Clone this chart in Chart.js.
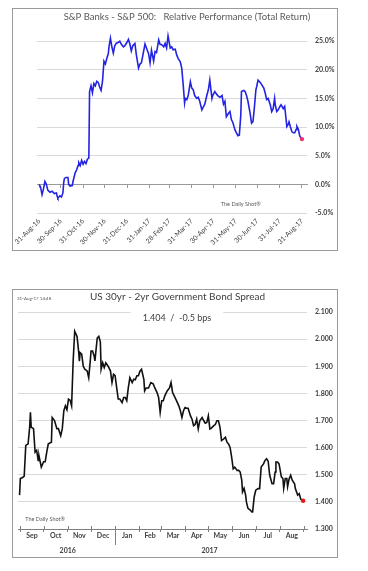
<!DOCTYPE html>
<html><head><meta charset="utf-8">
<script src="https://cdn.jsdelivr.net/npm/chart.js@4"></script>
<style>
html,body{margin:0;padding:0;background:#fff;}
body{width:368px;height:571px;position:relative;overflow:hidden;}
.box{position:absolute;border:1px solid #9a9a9a;box-sizing:border-box;background:#fff}
#b1{left:12px;top:8px;width:326px;height:243px}
#b2{left:12px;top:289px;width:326px;height:269px}
.box canvas{position:absolute;left:0;top:0}
</style></head><body>
<div class="box" id="b1"><canvas id="c1" width="324" height="241"></canvas></div>
<div class="box" id="b2"><canvas id="c2" width="324" height="267"></canvas></div>
<script>
// ---------- Chart 1 data: S&P Banks - S&P 500 relative performance (%), x = days since 31-Aug-16
const relTitle = 'S&P Banks - S&P 500:   Relative Performance (Total Return)';
const relDays = [0,2,4,6,8,10,12,15,18,21,24,25,26,29,31,33,34,35,37,40,41,43,46,47,50,52,54,55,57,59,61,63,65,67,69,70,72,74,76,78,80,82,84,86,88,90,92,94,96,97,99,101,103,105,107,110,112,114,117,119,122,124,126,128,130,133,135,138,140,142,144,147,149,152,154,156,159,161,163,166,168,170,173,175,177,179,182,184,186,189,191,193,196,198,200,202,203,205,207,210,212,214,216,219,221,223,226,228,230,233,235,237,240,241,244,246,248,251,254,256,258,260,263,265,267,269,272,274,276,278,280,281,284,286,288,290,293,295,297,299,301,302,304,307,309,312,314,316,318,321,323,325,327,328,330,332,334,336,339,341,342,344,346,347,349,351,353,355,357,358,360,362,365];
const relPerf = [0,-0.5,-1.8,-0.8,0.5,0,-1.0,-1.4,-1.2,-1.6,-1.5,-2.1,-2.4,-2.0,-2.2,-1.5,0.2,1.0,1.2,1.2,0.0,-0.3,-0.2,0.5,2.0,2.5,3.3,3.8,3.3,4.2,3.5,4.0,3.6,4.4,4.6,16.2,17.2,16.0,17.6,17.2,18.0,17.8,17.0,16.4,18.0,21.5,21.0,22.0,22.8,24.0,25.5,24.0,22.9,24.2,24.6,24.8,25.0,24.5,24.0,24.2,24.8,25.3,24.5,23.3,24.2,24.6,22.6,20.3,21.0,21.2,22.5,24.5,23.8,22.8,21.2,23.4,21.5,23.2,23.0,25.2,24.4,24.4,24.0,24.6,23.8,25.9,23.8,24.0,23.5,23.6,22.6,22.0,21.4,20.3,17.5,14.2,15.0,14.8,15.5,17.9,16.8,16.5,15.5,15.0,15.2,14.5,13.0,13.5,14.0,15.6,16.5,18.2,15.0,15.5,16.2,15.8,15.5,15.2,15.5,14.0,14.5,11.8,12.4,12.7,11.3,10.8,9.5,9.0,8.5,8.6,12.0,16.2,16.4,16.2,15.5,14.5,12.4,10.7,11.0,13.5,16.5,17.0,18.2,17.8,17.4,16.8,15.9,14.8,15.0,13.9,12.7,13.2,15.0,13.8,12.7,13.0,13.5,13.9,13.2,13.6,12.5,10.1,10.5,10.9,10.0,9.2,9.0,9.0,9.6,10.1,9.6,8.4,7.9];
const relTickDays = [0,30,61,91,122,153,181,212,242,273,303,334,365];
const relTickLabels = ['31-Aug-16','30-Sep-16','31-Oct-16','30-Nov-16','31-Dec-16','31-Jan-17','28-Feb-17','31-Mar-17','30-Apr-17','31-May-17','30-Jun-17','31-Jul-17','31-Aug-17'];
const relYTicks = [-5,0,5,10,15,20,25];

// ---------- Chart 2 data: US 30yr - 2yr spread, x = days since 31-Aug-16
const spreadTitle = 'US 30yr - 2yr Government Bond Spread';
const spreadSubtitle = '1.404  /  -0.5 bps';
const stampText = '31-Aug-17 14:48';
const spreadDays = [0,1,4,6,8,11,13,14,15,18,20,22,24,25,28,31,33,35,37,41,42,45,48,50,53,55,57,59,61,63,65,67,69,71,74,76,77,78,80,82,84,87,89,91,92,94,96,97,100,102,104,105,107,109,111,114,117,119,121,123,125,127,129,132,134,136,138,140,142,145,147,149,151,153,155,157,160,161,163,166,169,172,174,177,179,181,183,185,187,190,193,195,197,200,202,205,207,209,211,213,215,217,220,222,224,226,228,230,232,235,237,239,241,243,245,247,250,252,254,256,258,260,262,265,267,269,271,273,275,277,280,282,284,286,287,289,291,292,294,297,299,300,302,304,307,309,311,314,316,318,320,322,325,327,329,330,332,334,337,339,340,342,344,345,347,349,351,354,355,358,360,362,365];
const spreadVals = [1.425,1.486,1.490,1.495,1.608,1.614,1.675,1.730,1.675,1.670,1.583,1.590,1.553,1.570,1.528,1.548,1.548,1.583,1.614,1.620,1.711,1.700,1.670,1.670,1.644,1.670,1.736,1.754,1.740,1.779,1.775,1.754,1.919,2.029,2.010,1.956,1.919,1.950,1.945,1.900,1.889,1.883,1.858,1.919,1.956,1.956,1.938,1.920,2.004,2.010,1.990,1.889,1.913,1.895,1.913,1.900,1.883,1.840,1.870,1.865,1.821,1.779,1.779,1.766,1.785,1.785,1.773,1.821,1.858,1.840,1.852,1.850,1.865,1.865,1.882,1.889,1.852,1.809,1.820,1.820,1.840,1.835,1.821,1.803,1.785,1.730,1.773,1.773,1.791,1.809,1.820,1.840,1.803,1.785,1.773,1.754,1.736,1.711,1.736,1.748,1.745,1.745,1.717,1.705,1.681,1.685,1.705,1.669,1.699,1.711,1.700,1.690,1.693,1.717,1.669,1.672,1.681,1.685,1.699,1.699,1.675,1.626,1.630,1.638,1.620,1.614,1.601,1.565,1.522,1.528,1.516,1.516,1.510,1.480,1.437,1.450,1.425,1.400,1.376,1.370,1.363,1.363,1.418,1.443,1.449,1.449,1.528,1.540,1.553,1.559,1.550,1.498,1.467,1.467,1.510,1.547,1.547,1.540,1.492,1.486,1.450,1.486,1.486,1.456,1.485,1.498,1.480,1.467,1.449,1.425,1.430,1.410,1.404];
const monthStartDays = [1,31,62,92,123,154,182,213,243,274,304,335,366];
const monthNames = ['Sep','Oct','Nov','Dec','Jan','Feb','Mar','Apr','May','Jun','Jul','Aug'];
const yearNames = ['2016','2017'];
const yearStartDays = [1,123,366];
const spreadYTicks = [1.3,1.4,1.5,1.6,1.7,1.8,1.9,2.0,2.1];

// ---------- helpers
const FONT = 'Lato, "Open Sans", "DejaVu Sans", sans-serif';
Chart.defaults.font.family = FONT;
Chart.defaults.color = '#404040';
const monthMidDays = monthStartDays.slice(0,-1).map((d,i)=>(d+monthStartDays[i+1])/2);
const yearMidDays = yearStartDays.slice(0,-1).map((d,i)=>(d+yearStartDays[i+1])/2);
const fixTicks = vals => scale => { scale.ticks = vals.map(v=>({value:v})); };
const lastDot = (n, r) => ctx => ctx.dataIndex === n-1 ? r : 0;

// ---------- Chart 1
new Chart(document.getElementById('c1'), {
  type:'line',
  data:{datasets:[{
    data: relDays.map((d,i)=>({x:d,y:relPerf[i]})),
    borderColor:'#2323e3', borderWidth:1.6, tension:0, clip:false,
    pointRadius: lastDot(relDays.length, 2.2), pointBorderWidth:0,
    pointBackgroundColor:'#f2336e', xAxisID:'x', yAxisID:'y'
  }]},
  options:{
    responsive:false, devicePixelRatio:1, animation:false,
    layout:{padding:{left:24,right:0,top:0,bottom:0}},
    plugins:{
      legend:{display:false}, tooltip:{enabled:false},
      title:{display:true,text:relTitle,color:'#595959',font:{size:9.5,weight:'normal'},padding:{top:2,bottom:13}}
    },
    scales:{
      x:{type:'linear',min:-3,max:372,position:{y:0},afterBuildTicks:fixTicks(relTickDays),
        ticks:{display:false},grid:{drawOnChartArea:false,drawTicks:true,tickLength:3,color:'#9a9a9a'},
        border:{color:'#9a9a9a',width:1}},
      xl:{type:'linear',axis:'x',min:-3,max:372,position:'bottom',afterBuildTicks:fixTicks(relTickDays),
        ticks:{autoSkip:false,minRotation:45,maxRotation:45,padding:4,font:{size:6.8},color:'#404040',
          callback:v=>relTickLabels[relTickDays.indexOf(v)]},
        grid:{display:false,drawTicks:false},border:{display:false},
        afterFit:s=>{s.height=37;s.paddingLeft=0;s.paddingRight=0;}},
      y:{type:'linear',min:-5,max:26,position:'right',afterBuildTicks:fixTicks(relYTicks),
        ticks:{padding:8,font:{size:7,weight:'bold'},color:'#404040',callback:v=>v.toFixed(1)+'%'},
        grid:{color:'#d9d9d9',drawTicks:false},border:{display:false},
        afterFit:s=>{s.width=30;}}
    }
  },
  plugins:[{id:'notes1',afterDraw(chart){
    const c=chart.ctx, x=chart.scales.x, y=chart.scales.y;
    c.save(); c.fillStyle='#595959'; c.font='5.5px '+FONT; c.textAlign='center'; c.textBaseline='middle';
    c.fillText('The Daily Shot\u00AE', x.getPixelForValue(280), y.getPixelForValue(-3.4));
    c.restore();
  }}]
});

// ---------- Chart 2
new Chart(document.getElementById('c2'), {
  type:'line',
  data:{datasets:[{
    data: spreadDays.map((d,i)=>({x:d,y:spreadVals[i]})),
    borderColor:'#111111', borderWidth:1.6, tension:0, clip:false,
    pointRadius: lastDot(spreadDays.length, 2.2), pointBorderWidth:0,
    pointBackgroundColor:'#e01b1b', xAxisID:'x', yAxisID:'y'
  }]},
  options:{
    responsive:false, devicePixelRatio:1, animation:false,
    layout:{padding:{left:5,right:0,top:0,bottom:0}},
    plugins:{
      legend:{display:false}, tooltip:{enabled:false},
      title:{display:true,text:spreadTitle,color:'#404040',font:{size:10,weight:'normal'},padding:{top:1,bottom:9}}
    },
    scales:{
      x:{type:'linear',min:-2,max:370,position:'bottom',weight:0,afterBuildTicks:fixTicks(monthStartDays),
        ticks:{display:false},grid:{drawOnChartArea:false,drawTicks:true,tickLength:3,color:'#7f7f7f'},
        border:{color:'#7f7f7f'},afterFit:s=>{s.height=3;s.paddingLeft=0;s.paddingRight=0;}},
      xm:{type:'linear',axis:'x',min:-2,max:370,position:'bottom',weight:1,afterBuildTicks:fixTicks(monthMidDays),
        ticks:{autoSkip:false,minRotation:0,maxRotation:0,padding:0,font:{size:7,weight:'bold'},color:'#404040',
          callback:v=>monthNames[monthMidDays.indexOf(v)]},
        grid:{display:false,drawTicks:false},border:{display:false},
        afterFit:s=>{s.height=14;s.paddingLeft=0;s.paddingRight=0;}},
      xy:{type:'linear',axis:'x',min:-2,max:370,position:'bottom',weight:2,afterBuildTicks:fixTicks(yearMidDays),
        ticks:{autoSkip:false,minRotation:0,maxRotation:0,padding:1,font:{size:7,weight:'bold'},color:'#404040',
          callback:v=>yearNames[yearMidDays.indexOf(v)]},
        grid:{display:false,drawTicks:false},border:{display:false},
        afterFit:s=>{s.height=11;s.paddingLeft=0;s.paddingRight=0;}},
      y:{type:'linear',min:1.3,max:2.1,position:'right',afterBuildTicks:fixTicks(spreadYTicks),
        ticks:{padding:8,font:{size:7,weight:'bold'},color:'#404040',callback:v=>v.toFixed(3)},
        grid:{color:'#d9d9d9',drawTicks:false},border:{display:false},
        afterFit:s=>{s.width=30;}}
    }
  },
  plugins:[{id:'notes2',afterDraw(chart){
    const c=chart.ctx, x=chart.scales.x, y=chart.scales.y, xm=chart.scales.xm, a=chart.chartArea;
    c.save();
    c.strokeStyle='#7f7f7f'; c.lineWidth=1; c.beginPath();
    monthStartDays.forEach(d=>{const px=Math.round(x.getPixelForValue(d))+0.5; c.moveTo(px,a.bottom-3); c.lineTo(px,a.bottom);});
    const sx=Math.round(x.getPixelForValue(yearStartDays[1]))+0.5;
    c.moveTo(sx,a.bottom); c.lineTo(sx,xm.bottom-1);
    c.stroke();
    c.font='9px '+FONT; c.textAlign='center'; c.textBaseline='middle';
    const cx=chart.width/2+2, cy=y.getPixelForValue(2.1)+6.5;
    const w=c.measureText(spreadSubtitle).width;
    c.fillStyle='#fff'; c.fillRect(cx-w/2-12, cy-12, w+24, 20);
    c.fillStyle='#404040'; c.fillText(spreadSubtitle, cx, cy);
    c.fillStyle='#595959'; c.font='5.5px '+FONT;
    c.fillText('The Daily Shot\u00AE', x.getPixelForValue(33), y.getPixelForValue(1.337));
    c.font='4.5px '+FONT; c.textAlign='left';
    c.fillText(stampText, 4, 9);
    c.restore();
  }}]
});
</script>
</body></html>
